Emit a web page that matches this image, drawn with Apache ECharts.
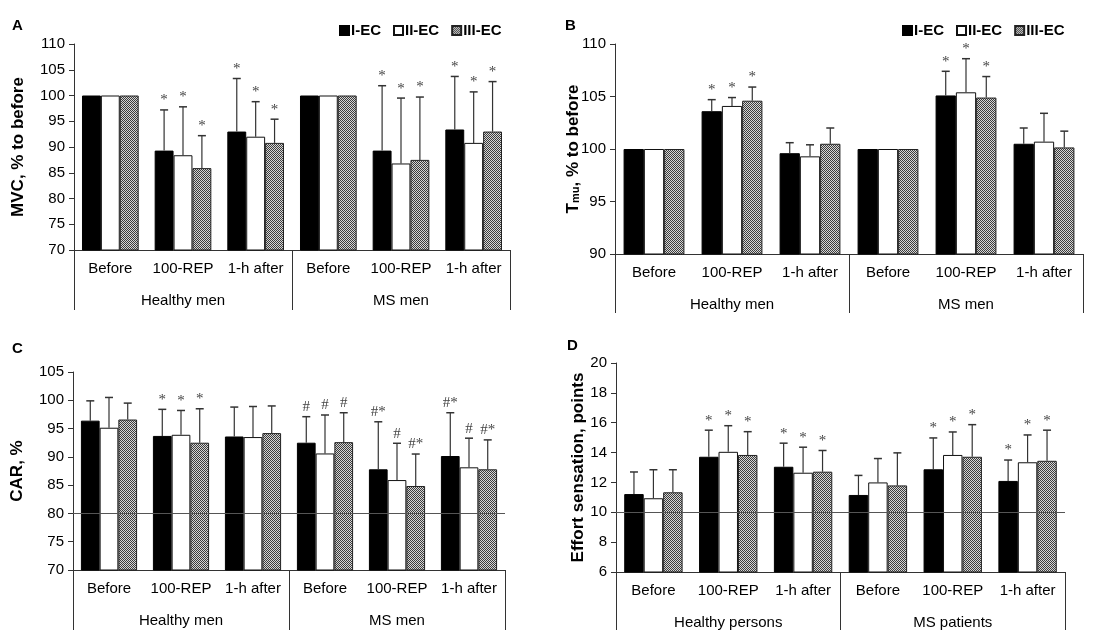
<!DOCTYPE html>
<html><head><meta charset="utf-8">
<script src="https://cdn.jsdelivr.net/npm/echarts@6/dist/echarts.min.js"></script>
<style>html,body{margin:0;padding:0;background:#fff}#c{width:1115px;height:630px}</style>
</head><body><div id="c"></div>
<script>
// ---------- DATA ----------
const subCats = ['Before','100-REP','1-h after','Before','100-REP','1-h after'];
const groupsMen = ['Healthy men','MS men'];
const groupsD = ['Healthy persons','MS patients'];
const seriesNames = ['I-EC','II-EC','III-EC'];

// Panel A: MVC, % to before
const A_I   = [100, 89.3, 93.0, 100, 89.3, 93.4];
const A_II  = [100, 88.4, 92.0, 100, 86.8, 90.8];
const A_III = [100, 85.9, 90.8, 100, 87.5, 93.0];
const A_I_err   = [0, 7.9, 10.3, 0, 12.6, 10.3];
const A_II_err  = [0, 9.4, 6.8, 0, 12.7, 9.9];
const A_III_err = [0, 6.3, 4.6, 0, 12.2, 9.7];
const A_I_sig   = ['', '*', '*', '', '*', '*'];
const A_II_sig  = ['', '*', '*', '', '*', '*'];
const A_III_sig = ['', '*', '*', '', '*', '*'];

// Panel B: Tmu, % to before
const B_I   = [100, 103.6, 99.6, 100, 105.1, 100.5];
const B_II  = [100, 104.1, 99.3, 100, 105.4, 100.7];
const B_III = [100, 104.6, 100.5, 100, 104.9, 100.15];
const B_I_err   = [0, 1.1, 1.0, 0, 2.3, 1.5];
const B_II_err  = [0, 0.8, 1.1, 0, 3.2, 2.7];
const B_III_err = [0, 1.3, 1.5, 0, 2.0, 1.55];
const B_I_sig   = ['', '*', '', '', '*', ''];
const B_II_sig  = ['', '*', '', '', '*', ''];
const B_III_sig = ['', '*', '', '', '*', ''];

// Panel C: CAR, %
const C_I   = [96.4, 93.7, 93.6, 92.5, 87.8, 90.15];
const C_II  = [95.15, 93.9, 93.5, 90.6, 85.9, 88.15];
const C_III = [96.6, 92.5, 94.2, 92.6, 84.85, 87.8];
const C_I_err   = [3.5, 4.7, 5.2, 4.6, 8.4, 7.65];
const C_II_err  = [5.35, 4.3, 5.4, 6.8, 6.5, 5.15];
const C_III_err = [2.9, 6.0, 4.8, 5.2, 5.65, 5.2];
const C_I_sig   = ['', '*', '', '#', '#*', '#*'];
const C_II_sig  = ['', '*', '', '#', '#', '#'];
const C_III_sig = ['', '*', '', '#', '#*', '#*'];

// Panel D: Effort sensation, points
const D_I   = [11.22, 13.72, 13.05, 11.16, 12.88, 12.1];
const D_II  = [10.94, 14.05, 12.65, 12.0, 13.84, 13.35];
const D_III = [11.34, 13.84, 12.72, 11.8, 13.72, 13.45];
const D_I_err   = [1.48, 1.78, 1.58, 1.31, 2.1, 1.4];
const D_II_err  = [1.91, 1.75, 1.71, 1.6, 1.54, 1.83];
const D_III_err = [1.51, 1.56, 1.42, 2.18, 2.15, 2.05];
const D_I_sig   = ['', '*', '*', '', '*', '*'];
const D_II_sig  = ['', '*', '*', '', '*', '*'];
const D_III_sig = ['', '*', '*', '', '*', '*'];

// ---------- STYLE ----------
const pc = document.createElement('canvas');
pc.width = 2; pc.height = 2;
const pctx = pc.getContext('2d');
pctx.fillStyle = '#d6d6d6'; pctx.fillRect(0,0,2,2);
pctx.fillStyle = '#3c3c3c'; pctx.fillRect(0,0,1,1); pctx.fillRect(1,1,1,1);
const hatch = {image: pc, repeat: 'repeat'};

const barStyles = [
  {color:'#000', borderColor:'#000', borderWidth:1},
  {color:'#fff', borderColor:'#111', borderWidth:1},
  {color: hatch, borderColor:'#222', borderWidth:1}
];
const BW = 0.26;
const font = 'Liberation Sans, Arial, sans-serif';

const panels = [
  {grid:{left:74, top:44, width:436, height:206}, min:70, max:110, interval:5,
   name:'MVC, % to before', nameGap:47, groups:groupsMen, tickLen:60,
   means:[A_I,A_II,A_III], errs:[A_I_err,A_II_err,A_III_err], sigs:[A_I_sig,A_II_sig,A_III_sig], mark:null},
  {grid:{left:615, top:44, width:468, height:210}, min:90, max:110, interval:5,
   name:'', nameGap:24, groups:groupsMen, tickLen:59,
   means:[B_I,B_II,B_III], errs:[B_I_err,B_II_err,B_III_err], sigs:[B_I_sig,B_II_sig,B_III_sig], mark:null},
  {grid:{left:73, top:372, width:432, height:198}, min:70, max:105, interval:5,
   name:'CAR, %', nameGap:47, groups:groupsMen, tickLen:62,
   means:[C_I,C_II,C_III], errs:[C_I_err,C_II_err,C_III_err], sigs:[C_I_sig,C_II_sig,C_III_sig], mark:80},
  {grid:{left:616, top:363, width:449, height:209}, min:6, max:20, interval:2,
   name:'Effort sensation, points', nameGap:28, groups:groupsD, tickLen:60,
   means:[D_I,D_II,D_III], errs:[D_I_err,D_II_err,D_III_err], sigs:[D_I_sig,D_II_sig,D_III_sig], mark:10}
];

const grid = [], xAxis = [], yAxis = [], series = [];
panels.forEach((p, i) => {
  grid.push(Object.assign({containLabel:false}, p.grid));
  xAxis.push({type:'category', gridIndex:i, data:subCats,
    axisLine:{show:true, lineStyle:{color:'#333', width:1}},
    axisTick:{show:false},
    axisLabel:{color:'#000', fontSize:15, fontFamily:font, margin:11, interval:0}});
  xAxis.push({type:'category', gridIndex:i, data:p.groups, position:'bottom',
    axisLine:{show:false},
    axisTick:{show:true, length:p.tickLen, lineStyle:{color:'#333', width:1}},
    axisLabel:{color:'#000', fontSize:15, fontFamily:font, margin:43, interval:0}});
  yAxis.push({type:'value', gridIndex:i, min:p.min, max:p.max, interval:p.interval,
    name:p.name, nameLocation:'middle', nameGap:p.nameGap, nameRotate:90,
    nameTextStyle:{color:'#000', fontSize:17, fontWeight:'bold', fontFamily:font},
    axisLine:{show:true, lineStyle:{color:'#333', width:1}},
    axisTick:{show:true, length:5, lineStyle:{color:'#333'}},
    splitLine:{show:false},
    axisLabel:{color:'#000', fontSize:15, fontFamily:font, margin:9}});
  for (let k = 0; k < 3; k++) {
    series.push({type:'bar', name:seriesNames[k], xAxisIndex:2*i, yAxisIndex:i,
      data:p.means[k], barWidth:(BW*100)+'%', barGap:'0%', itemStyle:barStyles[k],
      silent:true, animation:false});
  }
  for (let k = 0; k < 3; k++) {
    const means = p.means[k], errs = p.errs[k], sigs = p.sigs[k];
    const s = {type:'custom', xAxisIndex:2*i, yAxisIndex:i, z:5, silent:true, animation:false,
      data: means.map((m, j) => [j, m, errs[j]]),
      encode:{x:0, y:1},
      renderItem:(params, api) => {
        const j = api.value(0), m = api.value(1), e = api.value(2);
        const p0 = api.coord([j, m]);
        const p1 = api.coord([j, m + e]);
        const bw = api.size([1, 0])[0] * BW;
        const cx = p0[0] + (k - 1) * bw;
        const ch = [];
        if (e > 0) {
          ch.push({type:'line', shape:{x1:cx, y1:p0[1], x2:cx, y2:p1[1]}, style:{stroke:'#333', lineWidth:1.2}});
          ch.push({type:'line', shape:{x1:cx-4, y1:p1[1], x2:cx+4, y2:p1[1]}, style:{stroke:'#333', lineWidth:1.5}});
        }
        const lab = sigs[params.dataIndex];
        if (lab) {
          ch.push({type:'text', style:{text:lab, x:cx, y:p1[1]-2, align:'center', verticalAlign:'bottom',
            fill:'#444', font:'15px "Liberation Serif", "Times New Roman", serif'}});
        }
        return {type:'group', children:ch};
      }};
    if (k === 2 && p.mark !== null) {
      s.markLine = {silent:true, symbol:['none','none'], label:{show:false},
        lineStyle:{color:'#555', width:1, type:'solid'}, data:[{yAxis:p.mark}], animation:false};
    }
    series.push(s);
  }
});

const legendCommon = {data:seriesNames, icon:'rect', itemWidth:9, itemHeight:9, itemGap:12, top:18,
  textStyle:{fontSize:15, fontWeight:'bold', fontFamily:font, color:'#000', padding:[0,0,0,-3]}, selectedMode:false};

const chart = echarts.init(document.getElementById('c'));
chart.setOption({
  animation:false,
  backgroundColor:'#fff',
  grid, xAxis, yAxis, series,
  legend:[Object.assign({left:334}, legendCommon), Object.assign({left:897}, legendCommon)],
  graphic:[
    {type:'text', left:12, top:18, style:{text:'A', font:'bold 15px "Liberation Sans", Arial', fill:'#000'}},
    {type:'text', left:565, top:18, style:{text:'B', font:'bold 15px "Liberation Sans", Arial', fill:'#000'}},
    {type:'text', left:12, top:341, style:{text:'C', font:'bold 15px "Liberation Sans", Arial', fill:'#000'}},
    {type:'text', left:567, top:338, style:{text:'D', font:'bold 15px "Liberation Sans", Arial', fill:'#000'}},
    {type:'text', x:573, y:149, rotation:Math.PI/2,
     style:{text:'{t|T}{s|mu}{t|, % to before}', align:'center', verticalAlign:'middle',
       rich:{t:{font:'bold 17px "Liberation Sans", Arial', fill:'#000'},
             s:{font:'bold 11px "Liberation Sans", Arial', fill:'#000', verticalAlign:'bottom', padding:[6,0,0,0]}}}}
  ]
});
</script></body></html>
